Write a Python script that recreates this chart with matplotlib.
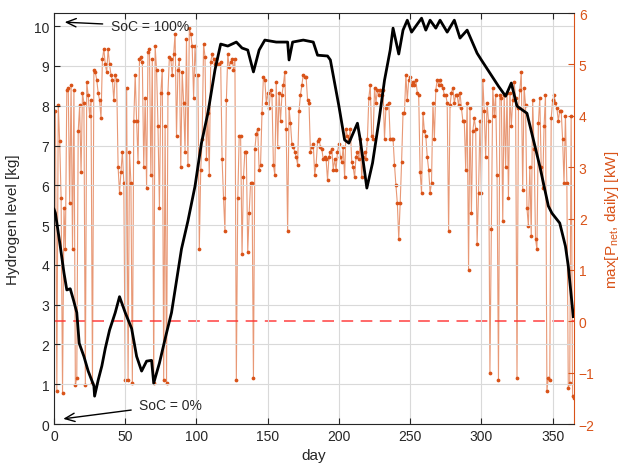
import numpy as np
import matplotlib
matplotlib.use('Agg')
import matplotlib.pyplot as plt

plt.rcParams['font.family'] = ['Liberation Sans', 'DejaVu Sans']

# hydrogen tank level (left axis)
h2_day = [0, 1, 4.4, 7, 9, 11.4, 13.8, 16, 17.7, 21, 24, 28, 28.5, 31, 33.6, 36, 39, 43, 46,
          50, 54.5, 58, 61.5, 65, 68.5, 70, 74, 79, 82.5, 86, 89.5, 94, 99, 103.5, 108, 113,
          117, 122, 128, 132, 136, 140, 144, 148, 156, 164, 165, 167.5, 175, 182, 185, 192,
          194, 200, 204, 207, 213, 215, 219.6, 223.6, 228, 232, 236, 238, 242, 245, 248, 251,
          255, 258, 261, 264, 268, 271, 276, 281, 285, 290, 297, 300, 306, 312, 317, 321, 325,
          332, 341, 347, 349.5, 355, 359, 361, 364.5]
h2_level = [5.4, 5.3, 4.47, 3.8, 3.37, 3.4, 3.1, 2.8, 2.03, 1.7, 1.33, 0.96, 0.7, 1.1, 1.46,
            1.9, 2.36, 2.8, 3.2, 2.8, 2.4, 1.7, 1.33, 1.58, 1.6, 1.03, 1.53, 2.29, 2.8, 3.6,
            4.4, 5.1, 5.98, 7.06, 7.81, 8.9, 9.55, 9.5, 9.6, 9.45, 9.4, 8.85, 9.4, 9.65, 9.6,
            9.6, 9.15, 9.6, 9.65, 9.6, 9.27, 9.25, 9.15, 7.99, 7.14, 7.06, 7.56, 7.14, 5.93,
            6.56, 7.6, 8.64, 9.4, 9.95, 9.3, 9.9, 10.15, 9.85, 10.05, 10.2, 9.9, 10.15, 9.95,
            10.15, 9.85, 10.15, 9.7, 9.9, 9.32, 9.15, 8.82, 8.49, 8.24, 8.57, 7.99, 7.81,
            6.48, 5.48, 5.3, 5.05, 4.47, 3.97, 2.7]

# daily maximum net power (right axis), days 1..365
p_max = [
    4.1, -1.35, 4.2, 3.5, 2.4, -1.4, 2.2, 1.4, 4.5, 4.55,
    2.3, 4.6, 1.4, 4.5, -1.25, -1.1, 3.7, 4.2, 2.9, 4.45,
    4.25, -1.25, 4.65, 4.4, 4.0, 4.3, -1.2, 4.9, 4.85, 4.7,
    4.45, 4.3, 3.95, 5.1, 5.3, 5.0, 4.85, 5.3, 5.0, 4.8,
    4.7, 4.3, 4.8, 4.7, 3.0, 2.5, 2.9, 3.3, 2.7, -1.15,
    4.55, -1.15, 3.3, 2.7, -1.2, 3.9, 4.8, 3.9, 3.1, 5.1,
    5.15, 5.05, 3.0, 4.35, 2.6, 5.25, 5.3, 2.85, 5.1, -1.2,
    5.35, 4.9, 3.8, 2.2, 4.45, 4.9, -1.15, 3.8, -1.2, 4.45,
    5.15, 5.1, 4.8, 5.2, 5.6, 3.6, 4.9, 5.1, 3.0, 4.85,
    4.25, 3.3, 5.5, 3.05, 5.7, 5.6, 5.35, 4.35, 5.35, 4.8,
    4.8, 1.4, 2.95, 3.55, 5.4, 5.15, 3.15, 4.05, 2.85, 5.05,
    5.2, 5.1, 5.0, 5.1, 5.0, 5.0, 5.05, 3.15, 2.4, 1.75,
    4.3, 5.2, 4.95, 5.05, 5.1, 4.9, 5.1, -1.15, 2.4, 3.6,
    3.6, 1.3, 2.8, 3.3, 3.3, 1.35, 2.1, 2.7, 2.7, -1.1,
    3.35, 3.65, 3.75, 2.95, 3.05, 4.05, 4.75, 4.7, 4.25, 4.45,
    4.15, 4.5, 4.4, 3.05, 2.85, 4.65, 3.4, 4.45, 3.9, 4.4,
    4.6, 4.85, 3.75, 1.75, 4.15, 3.85, 3.45, 3.4, 3.3, 3.2,
    3.05, 4.1, 4.4, 4.6, 4.8, 4.75, 4.75, 4.3, 4.25, 3.3,
    3.4, 3.45, 2.85, 3.05, 3.5, 3.55, 3.4, 3.35, 3.15, 3.2,
    3.15, 2.75, 3.2, 3.3, 3.35, 2.95, 3.15, 2.95, 3.3, 3.45,
    3.2, 3.1, 3.4, 2.8, 3.75, 3.6, 3.55, 3.75, 3.1, 3.0,
    2.8, 3.2, 3.3, 3.15, 3.55, 2.8, 3.2, 3.3, 3.15, 3.55,
    4.35, 4.6, 3.6, 3.55, 4.55, 4.25, 4.5, 4.4, 4.5, 4.4,
    4.5, 3.55, 4.15, 4.2, 4.25, 3.55, 3.55, 3.55, 3.05, 2.65,
    2.3, 1.6, 2.3, 3.1, 4.05, 4.05, 4.8, 4.3, 4.7, 4.75,
    4.6, 4.65, 4.6, 4.7, 4.45, 4.4, 2.9, 2.5, 4.05, 3.7,
    3.6, 3.2, 2.95, 2.5, 2.7, 4.25, 3.55, 4.5, 4.7, 4.6,
    4.7, 4.6, 4.55, 4.4, 4.4, 4.25, 1.75, 4.2, 4.45, 4.55,
    4.25, 4.4, 4.4, 4.2, 4.45, 4.15, 3.9, 3.9, 2.95, 4.25,
    1.0, 4.15, 2.1, 3.7, 3.95, 3.75, 1.5, 2.5, 3.9, 2.5,
    4.7, 4.1, 3.2, 4.25, 3.9, -1.0, 1.8, 4.55, 4.0, 4.4,
    2.85, -1.15, 4.4, 4.35, 1.95, 4.4, 3.0, 4.45, 2.4, 4.45,
    3.8, 4.3, 4.65, 4.35, -1.1, 4.15, 4.5, 4.85, 2.55, 4.55,
    4.2, 2.2, 1.85, 3.0, 1.65, 4.3, 3.35, 1.6, 1.4, 3.85,
    4.35, 3.0, 2.6, 3.8, 4.4, -1.35, -1.1, -1.15, 3.95, 4.3,
    4.4, 4.25, 4.15, 3.9, 4.1, 4.1, 3.55, 2.7, 4.0, 2.7,
    -1.3, -1.2, 4.0, -1.45, -1.5,
]
days = np.arange(1, len(p_max) + 1)

orange = '#D95319'
txt = '#262626'

fig = plt.figure(figsize=(6.22, 4.77), dpi=100)
ax = fig.add_axes([0.0868, 0.109, 0.836, 0.8616])
ax2 = ax.twinx()

# orange series on right axis
ax2.plot(days, p_max, color=orange, lw=0.8, alpha=0.6, zorder=2)
ax2.plot(days, p_max, ls='none', marker='o', ms=1.7, color=orange, mec=orange, zorder=3)
ax2.axhline(0, color='#ff3030', lw=1.2, ls=(0, (7, 4.5)), alpha=0.85, zorder=4)
ax2.set_ylim(-2, 6)
ax2.set_yticks(range(-2, 7))
ax2.tick_params(axis='y', colors=orange, direction='in', length=4, labelsize=10)
ax2.spines['right'].set_color(orange)
ax2.spines['left'].set_visible(False)
ax2.spines['top'].set_visible(False)
ax2.spines['bottom'].set_visible(False)
ax2.set_ylabel('max[P$_{\\mathregular{net}}$, daily] [kW]', color=orange, fontsize=11, labelpad=6)

# black series on left axis, drawn above the orange one
ax.set_zorder(ax2.get_zorder() + 1)
ax.patch.set_visible(False)
ax.plot(h2_day, h2_level, color='black', lw=2.0, zorder=5)
ax.set_xlim(0, 365)
ax.set_ylim(0, 10.33)
ax.set_xticks(range(0, 351, 50))
ax.set_yticks(range(0, 11))
ax.grid(True, color='#d9d9d9', lw=0.8)
ax.tick_params(direction='in', length=4, labelsize=10, colors=txt, top=True)
for s in ['left', 'bottom', 'top']:
    ax.spines[s].set_color(txt)
ax.spines['right'].set_visible(False)
ax.set_xlabel('day', fontsize=11, color=txt, labelpad=4)
ax.set_ylabel('Hydrogen level [kg]', fontsize=11, color=txt, labelpad=10)

ax.annotate('SoC = 100%', xy=(7.5, 10.1), xytext=(40, 10.0), fontsize=10, color=txt,
            va='center', ha='left',
            arrowprops=dict(arrowstyle='->,head_length=0.7,head_width=0.3', color='black', lw=1,
                            shrinkA=4, shrinkB=0))
ax.annotate('SoC = 0%', xy=(6.5, 0.13), xytext=(60, 0.48), fontsize=10, color=txt,
            va='center', ha='left',
            arrowprops=dict(arrowstyle='->,head_length=0.7,head_width=0.3', color='black', lw=1,
                            shrinkA=4, shrinkB=0))

fig.savefig('out.png', dpi=100)
